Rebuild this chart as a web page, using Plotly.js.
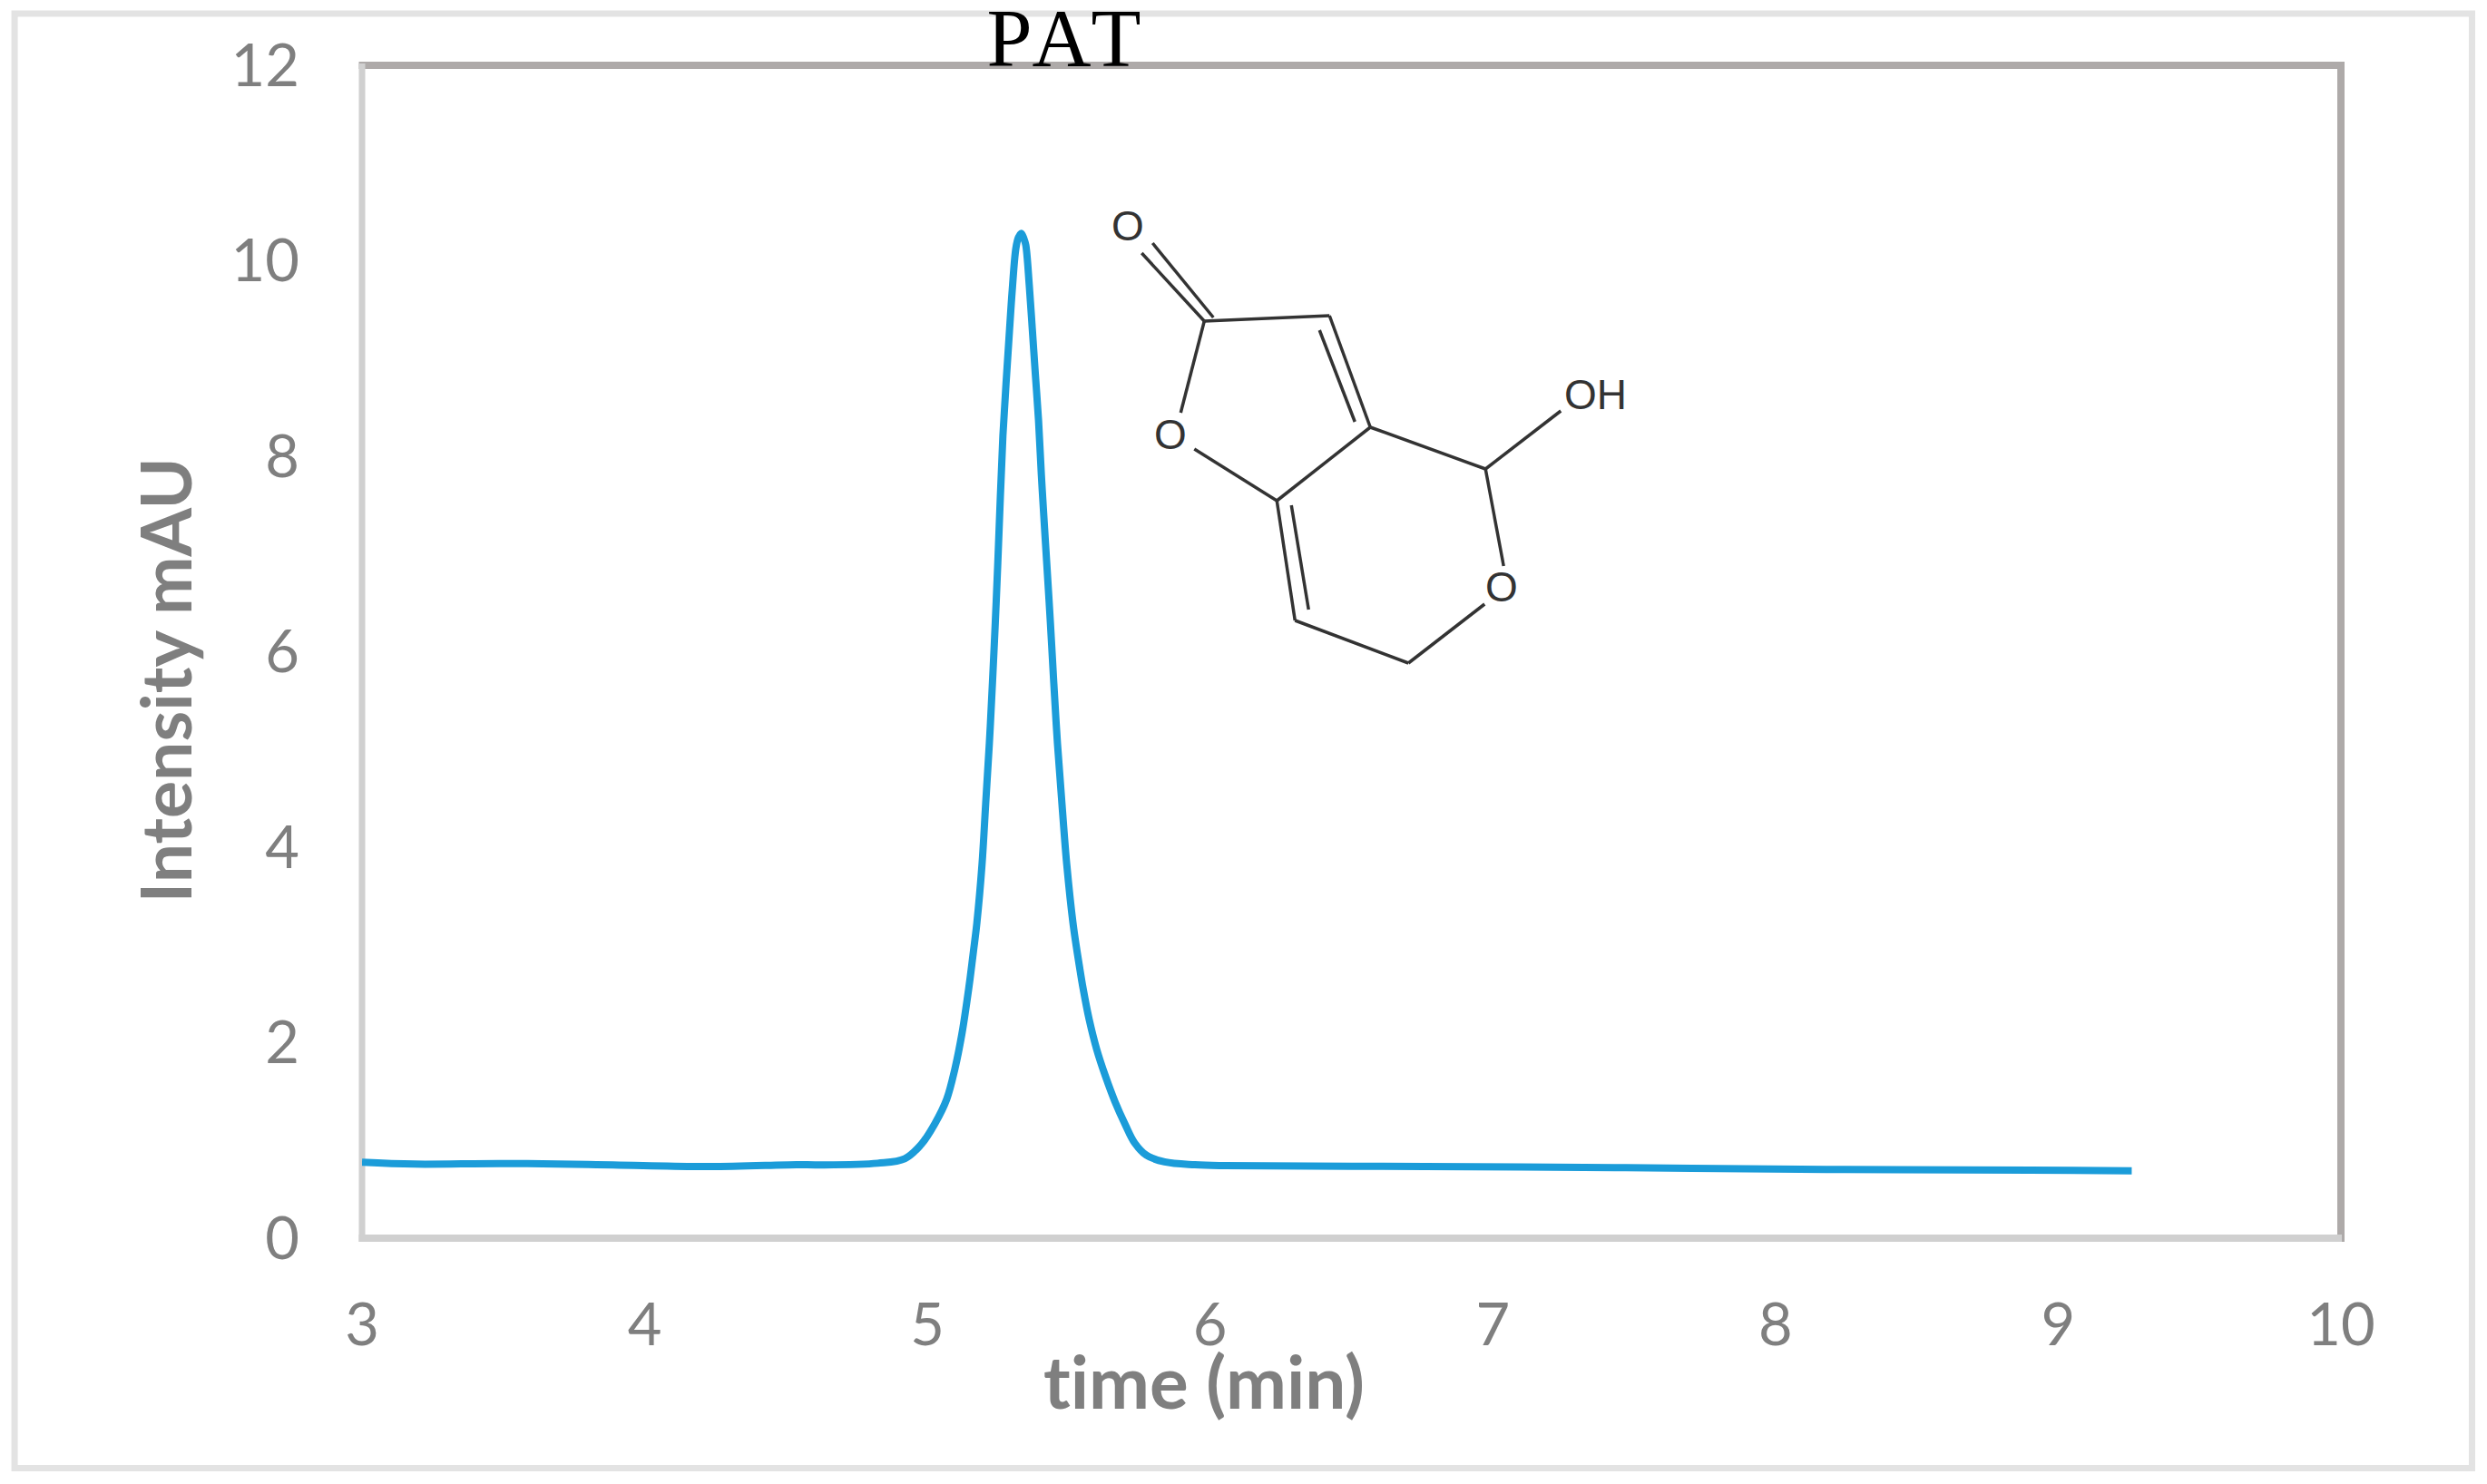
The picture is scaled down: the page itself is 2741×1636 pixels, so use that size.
<!DOCTYPE html>
<html>
<head>
<meta charset="utf-8">
<script src="https://cdn.plot.ly/plotly-3.0.1.min.js"></script>
<style>
html,body{margin:0;padding:0;background:#fff}
.gtitle{font-kerning:none}
.annotation-text{font-variant-ligatures:none;font-feature-settings:"liga" 0,"clig" 0;text-rendering:optimizeSpeed}
</style>
</head>
<body>
<div id="chart" style="width:2741px;height:1636px"></div>
<script>
// chromatogram
var timeMin = [3,3.186,3.49,3.80,4.23,4.537,4.61,4.824,4.92,4.978,5.026,5.068,5.097,5.122,5.139,5.151,5.163,5.174,5.193,5.206,5.219,5.23,5.24,5.249,5.258,5.267,5.278,5.289,5.30,5.313,5.322,5.332,5.342,5.348,5.36,5.371,5.382,5.393,5.403,5.414,5.422,5.435,5.447,5.46,5.476,5.493,5.516,5.54,5.551,5.572,5.599,5.63,5.663,5.70,5.733,5.774,5.839,5.946,6.05,6.76,7.47,8.18,8.9,9.26];
var intensity = [0.777,0.758,0.764,0.755,0.733,0.752,0.75,0.767,0.814,0.959,1.17,1.42,1.73,2.09,2.41,2.66,2.94,3.20,3.82,4.44,5.06,5.68,6.295,6.91,7.59,8.21,8.74,9.23,9.70,10.13,10.24,10.28,10.22,10.16,9.76,9.30,8.83,8.37,7.81,7.28,6.91,6.295,5.68,5.06,4.44,3.82,3.20,2.74,2.55,2.24,1.93,1.655,1.40,1.16,0.974,0.85,0.78,0.751,0.742,0.733,0.721,0.703,0.696,0.69];

var xTicks = [3,4,5,6,7,8,9,10];
var yTicks = [0,2,4,6,8,10,12];

// patulin structure drawn as an inset, in picture pixels: x0, y0, x1, y1
var bonds = [
    [1270,268,1337,350], [1258,279,1327,354],
    [1327,354,1465,348], [1327,354,1301,455], [1316,495,1407,552],
    [1465,348,1510,471], [1454,364,1493,465],
    [1510,471,1407,552], [1510,471,1637,517],
    [1637,517,1720,453], [1637,517,1657,624],
    [1636,666,1552,731], [1552,731,1427,684],
    [1427,684,1407,552], [1423,557,1442,672]
];
var atomText = ['O','O','O','OH'];
var atomX = [1243,1290,1655,1758];
var atomY = [249,479,647,435];

var W = 2741, H = 1636;
var L = 398.5, R = 2580, T = 72, B = 1365;
var grey = '#7f7f7f';
var tickFont = {family: 'Lato, sans-serif', size: 65, color: grey};
var xTitleFont = {family: 'Lato, sans-serif', size: 80, color: grey, weight: 700};
var yTitleFont = {family: 'Lato, sans-serif', size: 77, color: grey, weight: 700};

function px(x) { return (x - L) / (R - L); }
function py(y) { return (B - y) / (B - T); }

function pixLine(x0, y0, x1, y1, color, width) {
    return {type: 'line', xref: 'paper', yref: 'paper', x0: px(x0), x1: px(x1), y0: py(y0), y1: py(y1),
            line: {color: color, width: width}, layer: 'below'};
}

var shapes = [
    {type: 'rect', xref: 'paper', yref: 'paper', x0: px(15.5), x1: px(2724.5), y0: py(1618.5), y1: py(15),
     line: {color: '#e3e3e3', width: 7}, layer: 'below'},
    pixLine(395, 72, 2584, 72, '#aeaaa9', 8),
    pixLine(2580, 68, 2580, 1369, '#aeaaa9', 8),
    pixLine(398.5, 70, 398.5, 1369, '#d0d0d0', 7),
    pixLine(395, 1365, 2581, 1365, '#d0d0d0', 8)
];
bonds.forEach(function (b) {
    shapes.push(pixLine(b[0], b[1], b[2], b[3], '#333', 3.5));
});

var annotations = [
    {text: 'time (min)', xref: 'paper', yref: 'paper', x: px(1327), y: py(1522), showarrow: false,
     xanchor: 'center', yanchor: 'middle', font: xTitleFont},
    {text: 'Intensity mAU', xref: 'paper', yref: 'paper', x: px(180), y: py(750), showarrow: false,
     xanchor: 'center', yanchor: 'middle', textangle: -90, font: yTitleFont}
];
atomText.forEach(function (t, i) {
    annotations.push({text: t, xref: 'paper', yref: 'paper', x: px(atomX[i]), y: py(atomY[i]), showarrow: false,
                      xanchor: 'center', yanchor: 'middle',
                      font: {family: 'Liberation Sans', size: 46, color: '#333'}});
});

var data = [
    {x: timeMin, y: intensity, mode: 'lines', type: 'scatter',
     line: {color: '#1b9cd9', width: 8, shape: 'spline', smoothing: 1}, hoverinfo: 'skip'}
];

var layout = {
    width: W, height: H,
    margin: {l: L, r: W - R, t: T, b: H - B, pad: 0},
    paper_bgcolor: '#fff', plot_bgcolor: 'rgba(0,0,0,0)',
    showlegend: false,
    title: {text: 'PAT', font: {family: 'Liberation Serif', size: 90, color: '#000'},
            xref: 'container', yref: 'container', x: 1172.5 / W, xanchor: 'center',
            y: 1 - 73 / H, yanchor: 'bottom', pad: {t: 0, b: 0}},
    xaxis: {range: [3, 10], tickvals: xTicks, tickfont: tickFont, showgrid: false, zeroline: false,
            showline: false, ticks: '', ticklabelstandoff: 52},
    yaxis: {range: [0, 12], tickvals: yTicks, tickfont: tickFont, showgrid: false, zeroline: false,
            showline: false, ticks: '', ticklabelstandoff: 68},
    shapes: shapes,
    annotations: annotations
};

Plotly.newPlot('chart', data, layout, {displayModeBar: false});
</script>
</body>
</html>
